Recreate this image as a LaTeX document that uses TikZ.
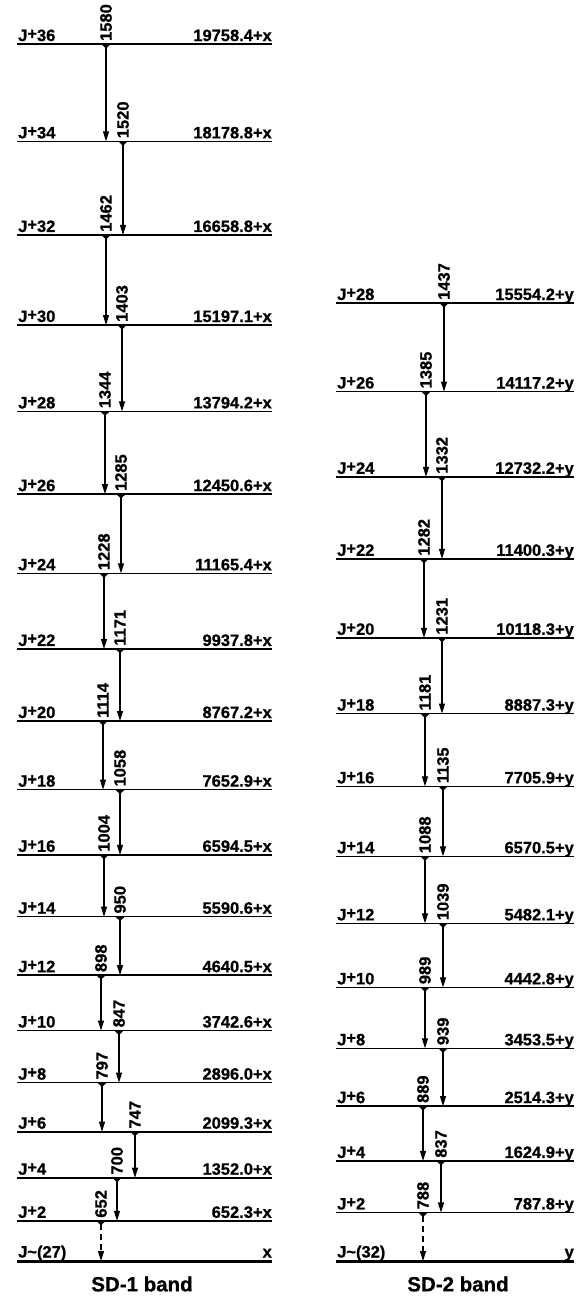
\documentclass[tikz,border=0pt]{standalone}
\usepackage{fontspec}
\setmainfont{Liberation Sans}[BoldFeatures={FakeBold=0.8}]
\usetikzlibrary{arrows.meta}
\newcommand{\Jp}{J\raisebox{1.8pt}{+}}
\begin{document}
\begin{tikzpicture}[x=1pt,y=-1pt,
  levelline/.style={line width=1.6pt},
  groundline/.style={line width=3pt},
  lvlab/.style={font=\fontsize{16.5}{16.5}\selectfont\bfseries, inner sep=0pt, anchor=base west},
  enlab/.style={font=\fontsize{16.5}{16.5}\selectfont\bfseries, inner sep=0pt, anchor=base east},
  trans/.style={line width=1.1pt, arrows={Triangle[reversed,width=9pt,length=4.5pt]-Triangle[width=6pt,length=10pt]}},
  dtrans/.style={trans, dash pattern=on 6pt off 4pt},
  translab/.style={font=\fontsize{16.5}{16.5}\selectfont\bfseries, rotate=90, anchor=west, inner sep=0pt},
  bandtitle/.style={font=\fontsize{20.5}{20.5}\selectfont\bfseries, inner sep=0pt}
]
\useasboundingbox (0,0) rectangle (588,1296);
% energies below are given in units of 10 keV (E/10) for pgfmath
% ---------------- SD-1 band levels
\foreach \s/\e/\el [count=\i] in {36/1975.84/19758.4+x, 34/1817.88/18178.8+x, 32/1665.88/16658.8+x, 30/1519.71/15197.1+x, 28/1379.42/13794.2+x, 26/1245.06/12450.6+x, 24/1116.54/11165.4+x, 22/993.78/9937.8+x, 20/876.72/8767.2+x, 18/765.29/7652.9+x, 16/659.45/6594.5+x, 14/559.06/5590.6+x, 12/464.05/4640.5+x, 10/374.26/3742.6+x, 8/289.60/2896.0+x, 6/209.93/2099.3+x, 4/135.20/1352.0+x, 2/65.23/652.3+x}{
  \coordinate (AL\i) at (17,{1261-0.6159*\e});
  \coordinate (AR\i) at (272,{1261-0.6159*\e});
  \draw[levelline] (AL\i) -- (AR\i);
  \node[lvlab] (AJ\i) at ([xshift=1pt,yshift=3pt]AL\i) {\Jp\s};
  \node[enlab] (AE\i) at ([yshift=3pt]AR\i) {\el};
}
\coordinate (AL0) at (17,1261);
\coordinate (AR0) at (272,1261);
\draw[groundline] (AL0) -- (AR0);
\node[lvlab] (AJ0) at ([xshift=1pt,yshift=3.5pt]AL0) {J\textasciitilde(27)};
\node[enlab] (AE0) at ([yshift=3.5pt]AR0) {x};
% SD-1 transitions
\foreach \ea/\eb/\x/\lab [count=\i] in {1975.84/1817.88/106/1580, 1817.88/1665.88/123/1520, 1665.88/1519.71/106/1462, 1519.71/1379.42/122/1403, 1379.42/1245.06/105/1344, 1245.06/1116.54/121/1285, 1116.54/993.78/104/1228, 993.78/876.72/120/1171, 876.72/765.29/103/1114, 765.29/659.45/120/1058, 659.45/559.06/104/1004, 559.06/464.05/120/950, 464.05/374.26/101/898, 374.26/289.60/119/847, 289.60/209.93/102/797, 209.93/135.20/135/747, 135.20/65.23/117/700}{
  \coordinate (ATs\i) at (\x,{1261-0.6159*\ea});
  \coordinate (ATe\i) at (\x,{1261-0.6159*\eb});
  \draw[trans] (ATs\i) -- (ATe\i);
  \node[translab] (ATl\i) at ([yshift=3pt]ATs\i) {\lab};
}
\coordinate (ATs0) at (101,{1261-0.6159*65.23});
\coordinate (ATe0) at (101,1261);
\draw[dtrans] (ATs0) -- (ATe0);
\node[translab] (ATl0) at ([yshift=3pt]ATs0) {652};
\node[bandtitle] (T1) at (142,1284) {SD-1 band};
% ---------------- SD-2 band levels
\foreach \s/\e/\el [count=\i] in {28/1555.42/15554.2+y, 26/1411.72/14117.2+y, 24/1273.22/12732.2+y, 22/1140.03/11400.3+y, 20/1011.83/10118.3+y, 18/888.73/8887.3+y, 16/770.59/7705.9+y, 14/657.05/6570.5+y, 12/548.21/5482.1+y, 10/444.28/4442.8+y, 8/345.35/3453.5+y, 6/251.43/2514.3+y, 4/162.49/1624.9+y, 2/78.78/787.8+y}{
  \coordinate (BL\i) at (336,{1261-0.6159*\e});
  \coordinate (BR\i) at (574,{1261-0.6159*\e});
  \draw[levelline] (BL\i) -- (BR\i);
  \node[lvlab] (BJ\i) at ([xshift=1pt,yshift=3pt]BL\i) {\Jp\s};
  \node[enlab] (BE\i) at ([yshift=3pt]BR\i) {\el};
}
\coordinate (BL0) at (336,1261);
\coordinate (BR0) at (574,1261);
\draw[groundline] (BL0) -- (BR0);
\node[lvlab] (BJ0) at ([xshift=1pt,yshift=3.5pt]BL0) {J\textasciitilde(32)};
\node[enlab] (BE0) at ([yshift=3.5pt]BR0) {y};
% SD-2 transitions
\foreach \ea/\eb/\x/\lab [count=\i] in {1555.42/1411.72/444/1437, 1411.72/1273.22/426/1385, 1273.22/1140.03/442/1332, 1140.03/1011.83/424/1282, 1011.83/888.73/442/1231, 888.73/770.59/425/1181, 770.59/657.05/443/1135, 657.05/548.21/425/1088, 548.21/444.28/443/1039, 444.28/345.35/425/989, 345.35/251.43/443/939, 251.43/162.49/423/889, 162.49/78.78/441/837}{
  \coordinate (BTs\i) at (\x,{1261-0.6159*\ea});
  \coordinate (BTe\i) at (\x,{1261-0.6159*\eb});
  \draw[trans] (BTs\i) -- (BTe\i);
  \node[translab] (BTl\i) at ([yshift=3pt]BTs\i) {\lab};
}
\coordinate (BTs0) at (423,{1261-0.6159*78.78});
\coordinate (BTe0) at (423,1261);
\draw[dtrans] (BTs0) -- (BTe0);
\node[translab] (BTl0) at ([yshift=3pt]BTs0) {788};
\node[bandtitle] (T2) at (458,1284) {SD-2 band};
\end{tikzpicture}
\end{document}
